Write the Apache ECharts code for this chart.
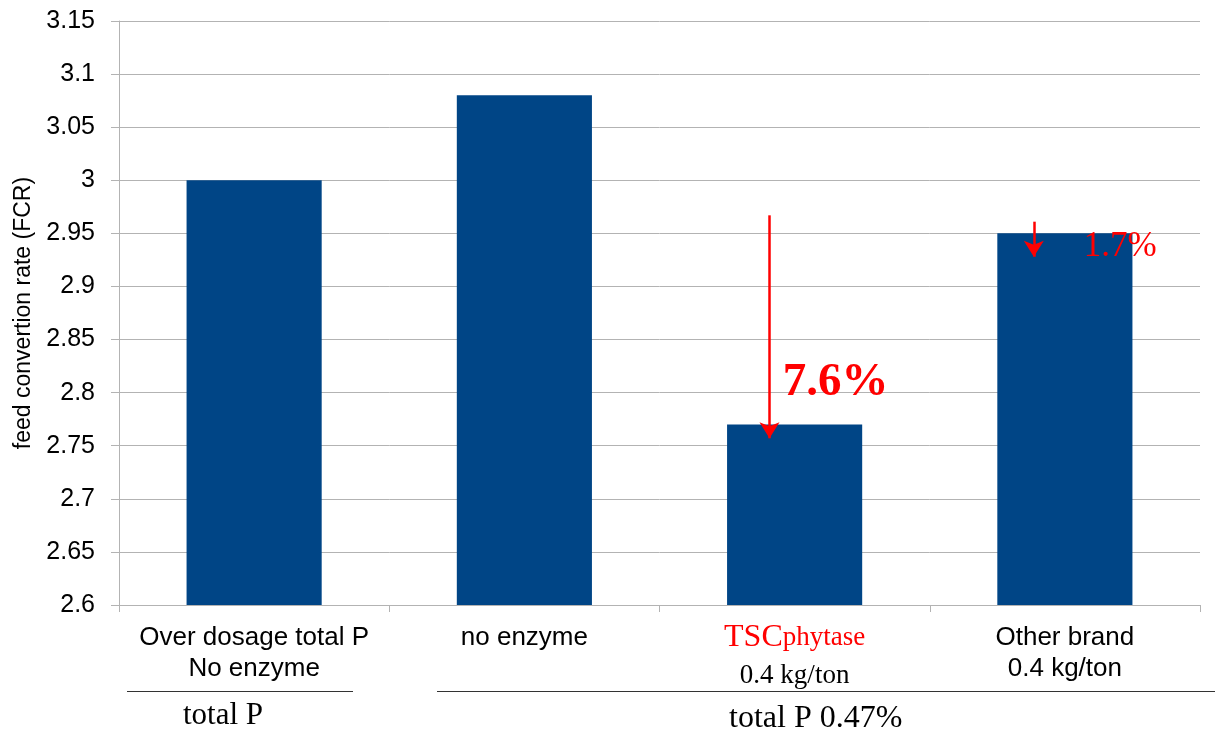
<!DOCTYPE html>
<html>
<head>
<meta charset="utf-8">
<script src="https://cdn.jsdelivr.net/npm/echarts@6/dist/echarts.min.js"></script>
<style>
html,body{margin:0;padding:0;background:#fff;}
#c{width:1215px;height:733px;}
</style>
</head>
<body>
<div id="c"></div>
<script>
// ---- data ----
var categories = ['Over dosage total P\nNo enzyme', 'no enzyme', 'TSCphytase\n0.4 kg/ton', 'Other brand\n0.4 kg/ton'];
var fcrValues = [3.00, 3.08, 2.77, 2.95];
var reductionLabels = ['7.6%', '1.7%'];
var groupLabels = ['total P', 'total P 0.47%'];
var yTicks = { min: 2.6, max: 3.15, interval: 0.05 };

var RED = '#ff0000';
var BLUE = '#004586';
var GRID = '#b3b3b3';

var chart = echarts.init(document.getElementById('c'), null, { renderer: 'canvas' });

var option = {
  animation: false,
  backgroundColor: '#ffffff',
  grid: { left: 119, right: 15, top: 21, bottom: 128, containLabel: false },
  xAxis: [
    {
      type: 'category',
      data: categories,
      axisLine: { show: true, lineStyle: { color: GRID, width: 1 } },
      axisTick: { show: true, length: 7, lineStyle: { color: GRID } },
      splitLine: { show: false },
      axisLabel: {
        interval: 0,
        margin: 17,
        color: '#000',
        fontFamily: 'Liberation Sans',
        fontSize: 26,
        lineHeight: 31,
        formatter: function (v, i) {
          if (i === 2) {
            return '{tsc|TSC}{ph|phytase}\n{kg|0.4 kg/ton}';
          }
          return v;
        },
        rich: {
          tsc: { fontFamily: 'Liberation Serif', fontSize: 32, color: RED, lineHeight: 31 },
          ph: { fontFamily: 'Liberation Serif', fontSize: 27, color: RED, lineHeight: 31 },
          kg: { fontFamily: 'Liberation Serif', fontSize: 27, color: '#000', lineHeight: 45 }
        }
      }
    },
    {
      type: 'value', min: 0, max: 4, show: false
    }
  ],
  yAxis: [{
    type: 'value',
    min: yTicks.min,
    max: yTicks.max,
    interval: yTicks.interval,
    name: 'feed convertion rate (FCR)',
    nameLocation: 'middle',
    nameGap: 84,
    nameTextStyle: { fontFamily: 'Liberation Sans', fontSize: 23, color: '#000' },
    axisLine: { show: true, lineStyle: { color: GRID } },
    axisTick: { show: true, length: 8, lineStyle: { color: GRID } },
    splitLine: { show: true, lineStyle: { color: GRID, width: 1 } },
    axisLabel: {
      margin: 24,
      color: '#000',
      fontFamily: 'Liberation Sans',
      fontSize: 25,
      formatter: function (v) { return String(parseFloat(v.toFixed(2))); }
    }
  }],
  series: [
    {
      type: 'bar',
      data: fcrValues,
      barWidth: '50%',
      itemStyle: { color: BLUE },
      xAxisIndex: 0,
      yAxisIndex: 0
    },
    {
      // annotations: arrows and reduction percentages
      type: 'scatter',
      xAxisIndex: 1,
      yAxisIndex: 0,
      symbolSize: 0,
      silent: true,
      z: 5,
      itemStyle: { opacity: 1, color: RED },
      data: [
        { value: [2.456, 2.809], label: { show: true, formatter: reductionLabels[0], position: 'right', distance: 0,
          fontFamily: 'Liberation Serif', fontWeight: 'bold', fontSize: 47, color: RED, opacity: 1, textBorderWidth: 0 } },
        { value: [3.570, 2.937], label: { show: true, formatter: reductionLabels[1], position: 'right', distance: 0,
          fontFamily: 'Liberation Serif', fontSize: 35, color: RED, opacity: 1, textBorderWidth: 0 } }
      ],
      markLine: {
        silent: true,
        symbol: ['none', 'arrow'],
        symbolSize: [15, 16],
        label: { show: false },
        lineStyle: { color: RED, width: 2.5, type: 'solid', opacity: 1 },
        data: [
          [{ coord: [2.407, 2.967] }, { coord: [2.407, 2.757] }],
          [{ coord: [3.385, 2.961] }, { coord: [3.385, 2.928] }]
        ]
      }
    }
  ],
  graphic: [
    { type: 'line', shape: { x1: 127, y1: 691.5, x2: 353, y2: 691.5 }, style: { stroke: '#333', lineWidth: 1 } },
    { type: 'line', shape: { x1: 437, y1: 691.5, x2: 1215, y2: 691.5 }, style: { stroke: '#333', lineWidth: 1 } },
    { type: 'text', left: 183, top: 700, style: { text: groupLabels[0], font: '31px "Liberation Serif"', fill: '#000' } },
    { type: 'text', left: 729, top: 703, style: { text: groupLabels[1], font: '32px "Liberation Serif"', fill: '#000' } }
  ]
};

chart.setOption(option);
</script>
</body>
</html>
